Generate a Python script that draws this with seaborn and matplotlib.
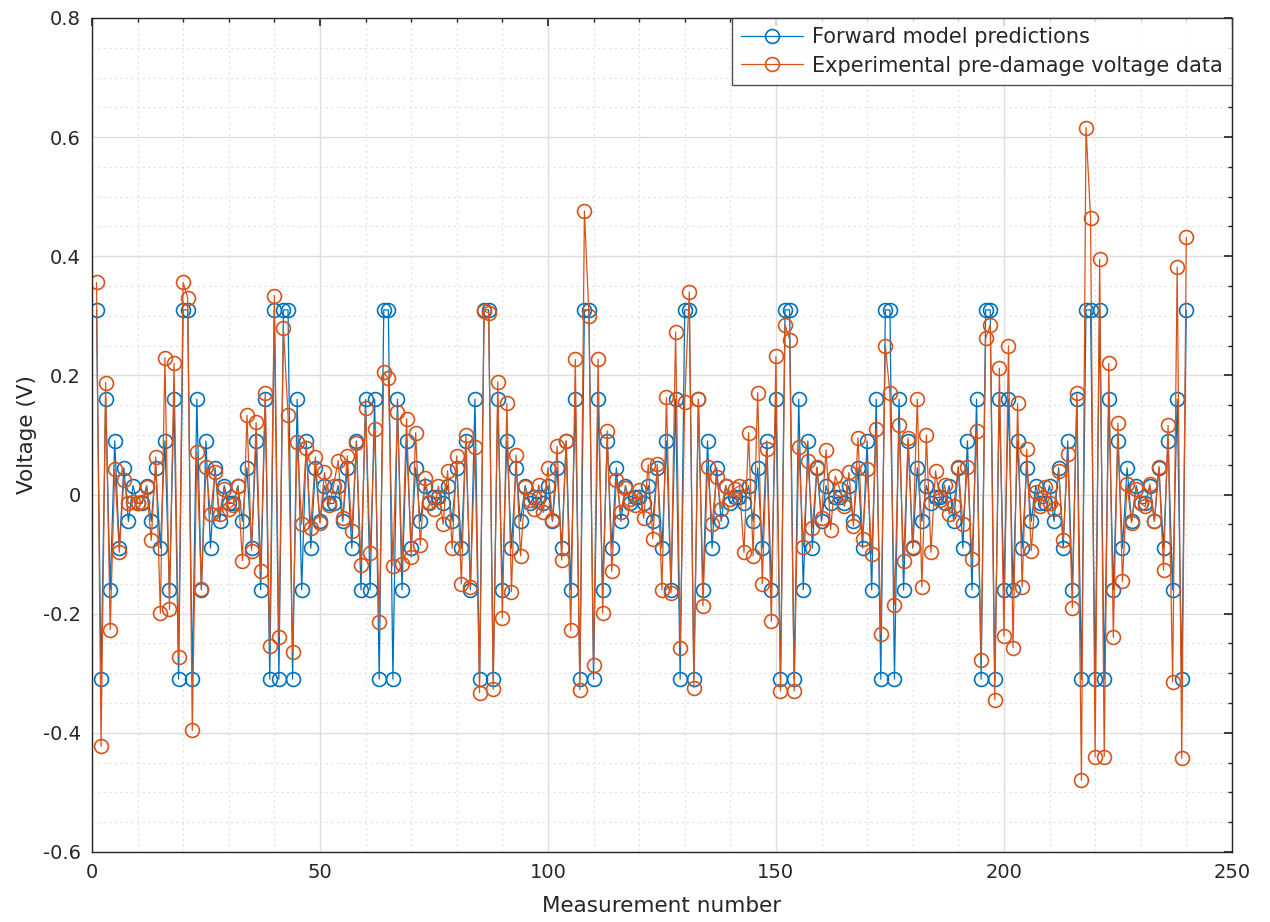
import numpy as np
import pandas as pd
import seaborn as sns
import matplotlib
matplotlib.use("Agg")
import matplotlib.pyplot as plt
from matplotlib.ticker import MultipleLocator, FuncFormatter

# Forward model predictions (V), measurements 1..240
model_v = [
    # 1-18
    0.31, -0.31, 0.16, -0.16, 0.09, -0.09, 0.045, -0.045, 0.015, -0.015, -0.015, 0.015, -0.045, 0.045, -0.09, 0.09, -0.16, 0.16,
    # 19-22
    -0.31, 0.31, 0.31, -0.31,
    # 23-40
    0.16, -0.16, 0.09, -0.09, 0.045, -0.045, 0.015, -0.015, -0.015, 0.015, -0.045, 0.045, -0.09, 0.09, -0.16, 0.16, -0.31, 0.31,
    # 41-44
    -0.31, 0.31, 0.31, -0.31,
    # 45-62
    0.16, -0.16, 0.09, -0.09, 0.045, -0.045, 0.015, -0.015, -0.015, 0.015, -0.045, 0.045, -0.09, 0.09, -0.16, 0.16, -0.16, 0.16,
    # 63-66
    -0.31, 0.31, 0.31, -0.31,
    # 67-84
    0.16, -0.16, 0.09, -0.09, 0.045, -0.045, 0.015, -0.015, -0.005, -0.005, -0.015, 0.015, -0.045, 0.045, -0.09, 0.09, -0.16, 0.16,
    # 85-88
    -0.31, 0.31, 0.31, -0.31,
    # 89-106
    0.16, -0.16, 0.09, -0.09, 0.045, -0.045, 0.015, -0.015, -0.005, -0.005, -0.015, 0.015, -0.045, 0.045, -0.09, 0.09, -0.16, 0.16,
    # 107-110
    -0.31, 0.31, 0.31, -0.31,
    # 111-128
    0.16, -0.16, 0.09, -0.09, 0.045, -0.045, 0.015, -0.015, -0.005, -0.005, -0.015, 0.015, -0.045, 0.045, -0.09, 0.09, -0.16, 0.16,
    # 129-132
    -0.31, 0.31, 0.31, -0.31,
    # 133-150
    0.16, -0.16, 0.09, -0.09, 0.045, -0.045, 0.015, -0.015, -0.005, -0.005, -0.015, 0.015, -0.045, 0.045, -0.09, 0.09, -0.16, 0.16,
    # 151-154
    -0.31, 0.31, 0.31, -0.31,
    # 155-172
    0.16, -0.16, 0.09, -0.09, 0.045, -0.045, 0.015, -0.015, -0.005, -0.005, -0.015, 0.015, -0.045, 0.045, -0.09, 0.09, -0.16, 0.16,
    # 173-176
    -0.31, 0.31, 0.31, -0.31,
    # 177-194
    0.16, -0.16, 0.09, -0.09, 0.045, -0.045, 0.015, -0.015, -0.005, -0.005, -0.015, 0.015, -0.045, 0.045, -0.09, 0.09, -0.16, 0.16,
    # 195-198
    -0.31, 0.31, 0.31, -0.31,
    # 199-216
    0.16, -0.16, 0.16, -0.16, 0.09, -0.09, 0.045, -0.045, 0.015, -0.015, -0.015, 0.015, -0.045, 0.045, -0.09, 0.09, -0.16, 0.16,
    # 217-220
    -0.31, 0.31, 0.31, -0.31,
    # 221-238
    0.31, -0.31, 0.16, -0.16, 0.09, -0.09, 0.045, -0.045, 0.015, -0.015, -0.015, 0.015, -0.045, 0.045, -0.09, 0.09, -0.16, 0.16,
    # 239-240
    -0.31, 0.31,
]

# Experimental pre-damage voltage data (V), measurements 1..240
measured_v = [
    # 1-18
    0.356, -0.423, 0.188, -0.227, 0.043, -0.097, 0.025, -0.015, -0.012, -0.015, -0.012, 0.012, -0.077, 0.063, -0.199, 0.23, -0.193, 0.22,
    # 19-22
    -0.272, 0.356, 0.33, -0.396,
    # 23-40
    0.072, -0.158, 0.047, -0.033, 0.037, -0.033, 0.01, -0.024, -0.018, 0.014, -0.111, 0.133, -0.094, 0.121, -0.129, 0.17, -0.254, 0.334,
    # 41-44
    -0.24, 0.279, 0.133, -0.265,
    # 45-62
    0.089, -0.05, 0.078, -0.056, 0.063, -0.048, 0.037, -0.018, 0.015, 0.057, -0.04, 0.065, -0.062, 0.087, -0.118, 0.145, -0.099, 0.11,
    # 63-66
    -0.214, 0.205, 0.195, -0.12,
    # 67-84
    0.139, -0.117, 0.127, -0.105, 0.104, -0.085, 0.028, -0.012, -0.024, 0.014, -0.05, 0.04, -0.09, 0.065, -0.15, 0.1, -0.155, 0.08,
    # 85-88
    -0.333, 0.308, 0.305, -0.327,
    # 89-106
    0.189, -0.207, 0.153, -0.163, 0.066, -0.103, 0.012, -0.01, -0.025, 0.016, -0.03, 0.045, -0.043, 0.081, -0.11, 0.09, -0.228, 0.227,
    # 107-110
    -0.328, 0.476, 0.3, -0.287,
    # 111-128
    0.227, -0.199, 0.107, -0.129, 0.025, -0.03, 0.011, -0.007, -0.018, 0.008, -0.04, 0.05, -0.074, 0.051, -0.16, 0.163, -0.165, 0.273,
    # 129-132
    -0.257, 0.156, 0.34, -0.324,
    # 133-150
    0.16, -0.187, 0.047, -0.05, 0.03, -0.024, 0.014, -0.007, 0.01, 0.015, -0.097, 0.104, -0.103, 0.171, -0.15, 0.076, -0.213, 0.232,
    # 151-154
    -0.33, 0.285, 0.26, -0.33,
    # 155-172
    0.08, -0.088, 0.057, -0.056, 0.046, -0.039, 0.075, -0.059, 0.031, 0.01, -0.02, 0.037, -0.053, 0.095, -0.074, 0.043, -0.1, 0.11,
    # 173-176
    -0.234, 0.25, 0.17, -0.185,
    # 177-194
    0.116, -0.112, 0.095, -0.088, 0.16, -0.155, 0.1, -0.097, 0.04, -0.01, 0.016, -0.033, -0.02, 0.047, -0.05, 0.047, -0.108, 0.107,
    # 195-198
    -0.277, 0.262, 0.285, -0.345,
    # 199-216
    0.212, -0.238, 0.25, -0.257, 0.153, -0.155, 0.076, -0.094, 0.005, -0.02, 0.012, -0.015, -0.025, 0.04, -0.076, 0.068, -0.19, 0.17,
    # 217-220
    -0.48, 0.616, 0.465, -0.44,
    # 221-238
    0.395, -0.44, 0.22, -0.24, 0.12, -0.146, 0.017, -0.047, 0.01, -0.015, -0.02, 0.017, -0.044, 0.047, -0.127, 0.116, -0.314, 0.382,
    # 239-240
    -0.443, 0.432,
]

measurement = list(range(1, len(model_v) + 1))

df = pd.DataFrame({
    "Measurement number": measurement * 2,
    "Voltage (V)": model_v + measured_v,
    "series": ["Forward model predictions"] * len(model_v)
    + ["Experimental pre-damage voltage data"] * len(measured_v),
})

sns.set_theme(style="white")
plt.rcParams["font.family"] = ["DejaVu Sans"]
plt.rcParams["axes.unicode_minus"] = False

fig = plt.figure(figsize=(12.7, 9.22), dpi=100)
ax = fig.add_axes([0.0724, 0.076, 0.8976, 0.9045])

palette = {"Forward model predictions": "#0072BD",
           "Experimental pre-damage voltage data": "#D95319"}
for name in ["Forward model predictions", "Experimental pre-damage voltage data"]:
    sub = df[df["series"] == name]
    sns.lineplot(data=sub, x="Measurement number", y="Voltage (V)", ax=ax,
                 color=palette[name], linewidth=0.9, marker="o", markersize=10,
                 markerfacecolor="none", markeredgecolor=palette[name],
                 markeredgewidth=1.2, label=name, estimator=None, sort=False)

ax.set_xlim(0, 250)
ax.set_ylim(-0.6, 0.8)
ax.xaxis.set_major_locator(MultipleLocator(50))
ax.xaxis.set_minor_locator(MultipleLocator(10))
ax.yaxis.set_major_locator(MultipleLocator(0.2))
ax.yaxis.set_minor_locator(MultipleLocator(0.05))
ax.yaxis.set_major_formatter(FuncFormatter(lambda v, p: "%g" % round(v, 2)))

ax.grid(True, which="major", color="#dedede", linewidth=1.0, linestyle="-")
ax.grid(True, which="minor", color="#e2e2e2", linewidth=0.8, linestyle=(0, (2, 3)))
ax.set_axisbelow(True)

for s in ax.spines.values():
    s.set_color("#262626")
    s.set_linewidth(1.0)
ax.tick_params(which="both", direction="in", colors="#262626", labelsize=14,
               top=True, right=True)
ax.tick_params(which="major", length=6, pad=8)
ax.tick_params(which="minor", length=3)

ax.set_xlabel("Measurement number", fontsize=15.5, color="#262626", labelpad=10)
ax.set_ylabel("Voltage (V)", fontsize=15.5, color="#262626", labelpad=4)

leg = ax.legend(loc="upper right", fontsize=15, frameon=True, fancybox=False,
                edgecolor="#262626", borderaxespad=0.0, handlelength=3.0,
                borderpad=0.45, labelspacing=0.4, handletextpad=0.4)
leg.get_frame().set_linewidth(1.0)

fig.savefig("out.png", dpi=100, facecolor="white")
